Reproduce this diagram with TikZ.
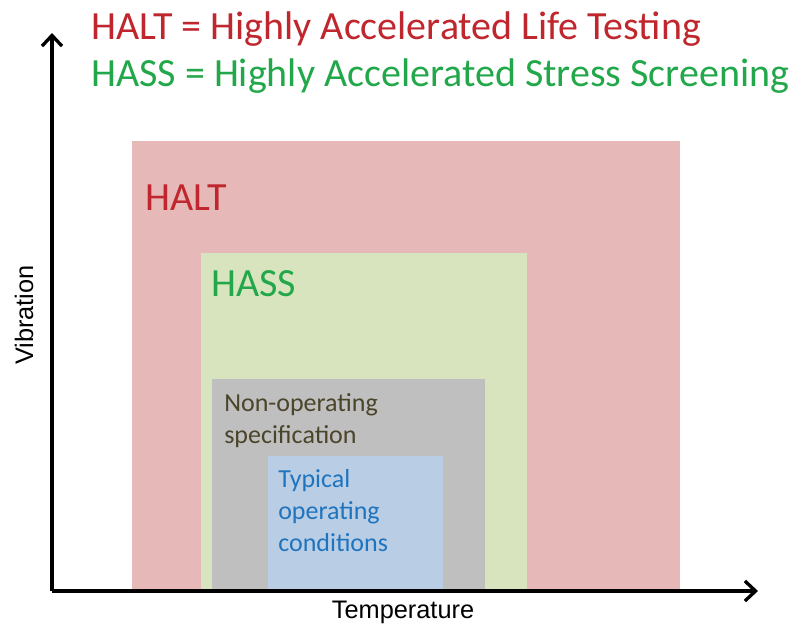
\documentclass[tikz,border=0pt]{standalone}
\usepackage{fontspec}
\setmainfont{Carlito}
\newfontfamily\axisfont{Liberation Sans}
\usetikzlibrary{arrows.meta}
\definecolor{haltred}{HTML}{C0262D}
\definecolor{hassgreen}{HTML}{22A84A}
\definecolor{haltbox}{HTML}{E6B9B8}
\definecolor{hassbox}{HTML}{D7E4BD}
\definecolor{specbox}{HTML}{BFBFBF}
\definecolor{typbox}{HTML}{B9CDE5}
\definecolor{spectext}{HTML}{4A452A}
\definecolor{typtext}{HTML}{1F74BE}
\tikzset{
  big/.style={font=\fontsize{30}{36}\selectfont, anchor=west, inner sep=0pt},
  small/.style={font=\fontsize{19.5}{24}\selectfont, anchor=north west, align=left, inner sep=0pt},
  axlabel/.style={font=\axisfont\fontsize{19}{21}\selectfont, inner sep=0pt},
  axis/.style={line width=2.5pt,-{Straight Barb[length=8pt,width=15pt,line width=2.5pt]}}
}
\begin{document}
\begin{tikzpicture}[x=0.75pt,y=-0.75pt]
	\useasboundingbox (0,0) rectangle (802,626);
	% regions
	\fill[haltbox] (132,141) rectangle (680,591);
	\fill[hassbox] (201,253) rectangle (527,591);
	\fill[specbox] (212,379) rectangle (485,591);
	\fill[typbox] (268,456) rectangle (443,591);
	% axes
	\coordinate (origin) at (52,591);
	\coordinate (ytop) at (52,33);
	\coordinate (xend) at (758,591);
	\draw[axis] (origin) -- (ytop);
	\draw[axis] (origin) -- (xend);
	\node[axlabel,rotate=90] (vib) at (24,315) {Vibration};
	\node[axlabel] (temp) at (403,612) {Temperature};
	% titles
	\node[big,text=haltred] (halttitle) at (91,29) {HALT = Highly Accelerated Life Testing};
	\node[big,text=hassgreen] (hasstitle) at (91,76) {HASS = Highly Accelerated Stress Screening};
	% labels
	\node[big,text=haltred] (halt) at (145,198) {HALT};
	\node[big,text=hassgreen] (hass) at (211,284) {HASS};
	\node[small,text=spectext] (spec) at (224,393) {Non-operating\\specification};
	\node[small,text=typtext] (typ) at (278,469) {Typical\\operating\\conditions};
\end{tikzpicture}
\end{document}
